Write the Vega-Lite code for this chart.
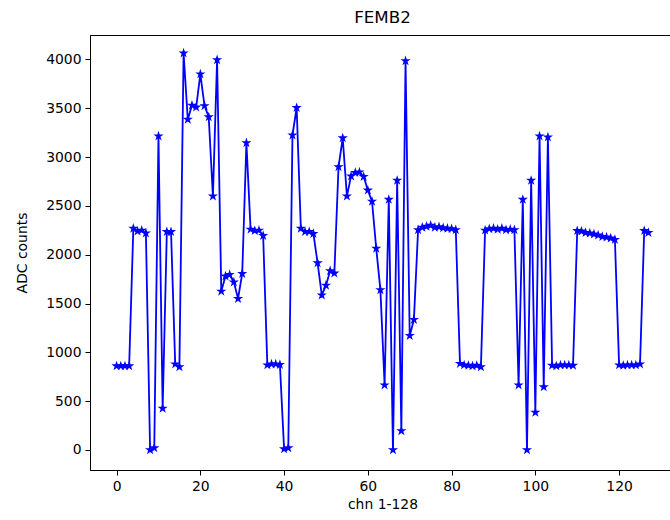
{
  "$schema": "https://vega.github.io/schema/vega-lite/v6.json",
  "autosize": "none",
  "padding": {"left": 90, "top": 35, "right": 0, "bottom": 50},
  "width": 585,
  "height": 435,
  "background": "white",
  "title": {"text": "FEMB2", "font": "DejaVu Sans", "fontSize": 16.7, "fontWeight": "normal", "color": "black", "offset": 8},
  "config": {
    "view": {"stroke": "black", "strokeWidth": 1},
    "axis": {
      "labelFont": "DejaVu Sans", "labelFontSize": 13.9, "labelColor": "black",
      "titleFont": "DejaVu Sans", "titleFontSize": 13.9, "titleFontWeight": "normal", "titleColor": "black",
      "domainColor": "black", "tickColor": "black", "tickSize": 5, "labelPadding": 4, "grid": false
    }
  },
  "data": {"values": [
    {"ch":0,"adc":860},{"ch":1,"adc":860},{"ch":2,"adc":860},{"ch":3,"adc":860},
    {"ch":4,"adc":2270},{"ch":5,"adc":2240},{"ch":6,"adc":2250},{"ch":7,"adc":2220},
    {"ch":8,"adc":0},{"ch":9,"adc":20},{"ch":10,"adc":3215},{"ch":11,"adc":425},
    {"ch":12,"adc":2235},{"ch":13,"adc":2235},{"ch":14,"adc":880},{"ch":15,"adc":850},
    {"ch":16,"adc":4065},{"ch":17,"adc":3385},{"ch":18,"adc":3530},{"ch":19,"adc":3510},
    {"ch":20,"adc":3850},{"ch":21,"adc":3525},{"ch":22,"adc":3410},{"ch":23,"adc":2600},
    {"ch":24,"adc":3995},{"ch":25,"adc":1625},{"ch":26,"adc":1780},{"ch":27,"adc":1795},
    {"ch":28,"adc":1720},{"ch":29,"adc":1550},{"ch":30,"adc":1805},{"ch":31,"adc":3145},
    {"ch":32,"adc":2260},{"ch":33,"adc":2245},{"ch":34,"adc":2250},{"ch":35,"adc":2195},
    {"ch":36,"adc":870},{"ch":37,"adc":880},{"ch":38,"adc":880},{"ch":39,"adc":875},
    {"ch":40,"adc":10},{"ch":41,"adc":20},{"ch":42,"adc":3225},{"ch":43,"adc":3505},
    {"ch":44,"adc":2270},{"ch":45,"adc":2235},{"ch":46,"adc":2235},{"ch":47,"adc":2215},
    {"ch":48,"adc":1915},{"ch":49,"adc":1585},{"ch":50,"adc":1685},{"ch":51,"adc":1835},
    {"ch":52,"adc":1810},{"ch":53,"adc":2900},{"ch":54,"adc":3195},{"ch":55,"adc":2600},
    {"ch":56,"adc":2805},{"ch":57,"adc":2840},{"ch":58,"adc":2845},{"ch":59,"adc":2800},
    {"ch":60,"adc":2660},{"ch":61,"adc":2545},{"ch":62,"adc":2065},{"ch":63,"adc":1640},
    {"ch":64,"adc":665},{"ch":65,"adc":2565},{"ch":66,"adc":0},{"ch":67,"adc":2760},
    {"ch":68,"adc":195},{"ch":69,"adc":3985},{"ch":70,"adc":1170},{"ch":71,"adc":1335},
    {"ch":72,"adc":2255},{"ch":73,"adc":2280},{"ch":74,"adc":2290},{"ch":75,"adc":2300},
    {"ch":76,"adc":2280},{"ch":77,"adc":2285},{"ch":78,"adc":2275},{"ch":79,"adc":2270},
    {"ch":80,"adc":2265},{"ch":81,"adc":2255},{"ch":82,"adc":885},{"ch":83,"adc":870},
    {"ch":84,"adc":865},{"ch":85,"adc":860},{"ch":86,"adc":865},{"ch":87,"adc":850},
    {"ch":88,"adc":2250},{"ch":89,"adc":2265},{"ch":90,"adc":2270},{"ch":91,"adc":2260},
    {"ch":92,"adc":2270},{"ch":93,"adc":2255},{"ch":94,"adc":2260},{"ch":95,"adc":2255},
    {"ch":96,"adc":665},{"ch":97,"adc":2565},{"ch":98,"adc":0},{"ch":99,"adc":2760},
    {"ch":100,"adc":385},{"ch":101,"adc":3215},{"ch":102,"adc":645},{"ch":103,"adc":3205},
    {"ch":104,"adc":865},{"ch":105,"adc":860},{"ch":106,"adc":870},{"ch":107,"adc":870},
    {"ch":108,"adc":870},{"ch":109,"adc":865},{"ch":110,"adc":2245},{"ch":111,"adc":2240},
    {"ch":112,"adc":2225},{"ch":113,"adc":2220},{"ch":114,"adc":2210},{"ch":115,"adc":2200},
    {"ch":116,"adc":2185},{"ch":117,"adc":2180},{"ch":118,"adc":2170},{"ch":119,"adc":2155},
    {"ch":120,"adc":870},{"ch":121,"adc":865},{"ch":122,"adc":870},{"ch":123,"adc":870},
    {"ch":124,"adc":870},{"ch":125,"adc":880},{"ch":126,"adc":2245},{"ch":127,"adc":2225}
  ]},
  "mark": {
    "type": "line",
    "color": "#0000ff",
    "strokeWidth": 1.8,
    "clip": true,
    "point": {
      "filled": true,
      "color": "#0000ff",
      "size": 115,
      "shape": "M0,-1L0.2245,-0.309L0.951,-0.309L0.3633,0.118L0.5878,0.809L0,0.382L-0.5878,0.809L-0.3633,0.118L-0.951,-0.309L-0.2245,-0.309Z"
    }
  },
  "encoding": {
    "x": {
      "field": "ch", "type": "quantitative",
      "scale": {"domain": [-6.35, 133.35], "nice": false, "zero": false},
      "axis": {"values": [0, 20, 40, 60, 80, 100, 120], "format": "d", "title": "chn 1-128", "titlePadding": 5}
    },
    "y": {
      "field": "adc", "type": "quantitative",
      "scale": {"domain": [-205, 4250], "nice": false, "zero": false},
      "axis": {"values": [0, 500, 1000, 1500, 2000, 2500, 3000, 3500, 4000], "format": "d", "title": "ADC counts", "titlePadding": 16}
    }
  }
}
